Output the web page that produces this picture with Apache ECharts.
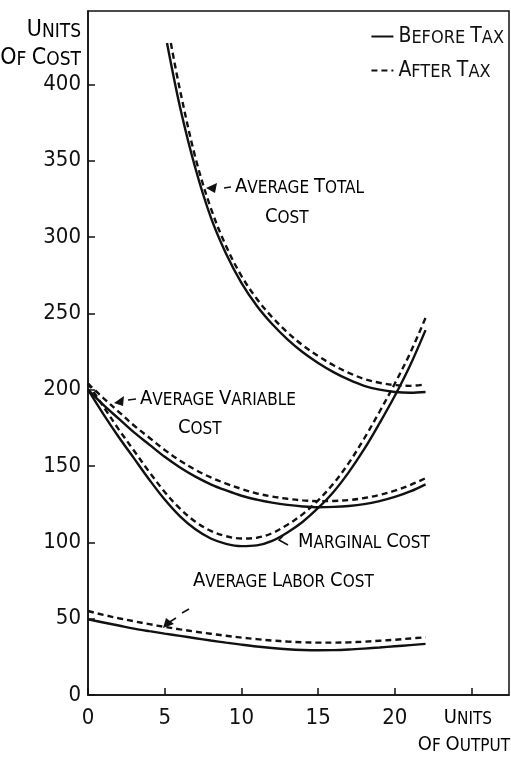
<!DOCTYPE html>
<html>
<head>
<meta charset="utf-8">
<script src="https://cdn.jsdelivr.net/npm/echarts@6/dist/echarts.min.js"></script>
<style>
  html, body { margin: 0; padding: 0; background: #fff; }
  #chart { width: 511px; height: 757px; }
</style>
</head>
<body>
<div id="chart"></div>
<script>
// units of output (x) shared by the curves that start at 0
const outputX = [0, 1, 2, 3, 4, 5, 6, 7, 8, 9, 10, 11, 12, 13, 14, 15, 16, 17, 18, 19, 20, 21, 22];

const avcBefore = [200, 190, 181, 172, 164, 156, 149, 143, 138, 134, 130.5, 128, 126, 124.5, 123.5, 123, 123.2, 123.8, 125, 127, 129.7, 133.3, 138];
const avcAfter = [204, 194.5, 185.5, 176.5, 168.5, 160.5, 153.5, 147.5, 142.5, 138.5, 135, 132, 130, 128.5, 127.5, 127, 127.1, 127.7, 129, 131, 133.8, 137.5, 142];

const mcBefore = [200, 184, 169, 155, 141, 128, 117, 108.5, 102.5, 99, 97.5, 98, 101, 106.5, 113.5, 122.5, 133, 146, 161, 178, 196, 216, 239];
const mcAfter = [204, 189, 174, 160, 146, 133, 122, 113.5, 107.5, 104, 102.5, 103, 106, 111.5, 118.5, 127.5, 138.5, 152, 168, 185.5, 204, 224, 247];

const alcBefore = [49.5, 47.5, 45.5, 43.5, 41.8, 40.2, 38.7, 37.2, 35.7, 34.3, 33, 31.8, 30.8, 30, 29.5, 29.3, 29.4, 29.8, 30.4, 31.1, 31.9, 32.7, 33.5];
const alcAfter = [55, 52.5, 50.3, 48.3, 46.4, 44.6, 43, 41.5, 40.1, 38.8, 37.6, 36.6, 35.7, 35, 34.5, 34.3, 34.3, 34.5, 34.9, 35.5, 36.2, 37, 37.8];

// average total cost only runs from about 5 units on
const atcBeforeX = [5.15, 6, 7, 8, 9, 10, 11, 12, 13, 14, 15, 16, 17, 18, 19, 20, 21, 22];
const atcBefore = [427, 385, 345, 313, 289, 270, 255, 243, 233, 224.5, 217.5, 211.5, 206.5, 202.5, 200, 198.5, 198, 198.5];
const atcAfterX = [5.4, 6, 7, 8, 9, 10, 11, 12, 13, 14, 15, 16, 17, 18, 19, 20, 21, 22];
const atcAfter = [427, 396, 352, 319, 294, 274.5, 259.5, 247.5, 237.5, 229, 222, 216, 211, 207, 204.5, 203, 202.5, 203.5];

const xTicks = [0, 5, 10, 15, 20];
const yTicks = [0, 50, 100, 150, 200, 250, 300, 350, 400];

const FONT = "'Liberation Sans Narrow', 'DejaVu Sans Condensed', sans-serif";
const INK = '#111';

// small caps: first letter of each word big, the rest small
function smallCaps(text) {
  return text.split(' ').map(w => '{b|' + w[0].toUpperCase() + '}{s|' + w.slice(1).toUpperCase() + '}').join('{s| }');
}
function capsStyle(big, small) {
  return {
    b: { fontFamily: FONT, fontSize: big, lineHeight: big, verticalAlign: 'bottom', color: INK },
    s: { fontFamily: FONT, fontSize: small, lineHeight: small, verticalAlign: 'bottom', color: INK }
  };
}

function pairs(xs, ys) {
  return xs.map((x, i) => [x, ys[i]]);
}

function curve(name, data, dashed) {
  return {
    type: 'line',
    name: name,
    data: data,
    smooth: 0.35,
    symbol: 'none',
    silent: true,
    lineStyle: { color: INK, width: 2.4, type: dashed ? [6, 4] : 'solid' },
    itemStyle: { color: INK }
  };
}

const chart = echarts.init(document.getElementById('chart'));

function label(x, y, text, big, small, align) {
  return {
    type: 'text', x: x, y: y,
    style: { text: smallCaps(text), rich: capsStyle(big, small), align: align || 'left', verticalAlign: 'middle' }
  };
}
function arrowHead(points) {
  return { type: 'polygon', shape: { points: points }, style: { fill: INK } };
}
function stroke(points) {
  return { type: 'polyline', shape: { points: points }, style: { stroke: INK, lineWidth: 1.5, fill: null } };
}

const option = {
  animation: false,
  backgroundColor: '#fff',
  grid: {
    left: 88, right: 2, top: 11, bottom: 62,
    show: true, borderColor: INK, borderWidth: 1.5
  },
  legend: {
    orient: 'vertical',
    right: 2,
    top: 21,
    itemWidth: 22,
    itemHeight: 14,
    itemGap: 13,
    data: ['Before Tax', 'After Tax'],
    itemStyle: { opacity: 0 },
    formatter: name => smallCaps(name),
    textStyle: { rich: capsStyle(21, 18) }
  },
  xAxis: {
    type: 'value',
    min: 0,
    max: 27.44,
    interval: 5,
    axisLine: { lineStyle: { color: INK, width: 1.5 } },
    axisTick: { inside: true, length: 7, lineStyle: { color: INK, width: 1.5 } },
    splitLine: { show: false },
    axisLabel: {
      showMaxLabel: false,
      margin: 12,
      fontFamily: FONT, fontSize: 22, color: INK,
      formatter: v => (xTicks.indexOf(v) >= 0 ? String(v) : '')
    }
  },
  yAxis: {
    type: 'value',
    min: 0,
    max: 448,
    interval: 50,
    axisLine: { lineStyle: { color: INK, width: 1.5 } },
    axisTick: { inside: true, length: 7, lineStyle: { color: INK, width: 1.5 } },
    splitLine: { show: false },
    axisLabel: {
      showMaxLabel: false,
      margin: 7,
      fontFamily: FONT, fontSize: 22, color: INK,
      formatter: v => (yTicks.indexOf(v) >= 0 ? String(v) : '')
    }
  },
  series: [
    curve('Before Tax', pairs(atcBeforeX, atcBefore), false),
    curve('After Tax', pairs(atcAfterX, atcAfter), true),
    curve('Before Tax', pairs(outputX, avcBefore), false),
    curve('After Tax', pairs(outputX, avcAfter), true),
    curve('Before Tax', pairs(outputX, mcBefore), false),
    curve('After Tax', pairs(outputX, mcAfter), true),
    curve('Before Tax', pairs(outputX, alcBefore), false),
    curve('After Tax', pairs(outputX, alcAfter), true)
  ],
  graphic: [
    // axis titles
    label(81, 30, 'Units', 23, 19, 'right'),
    label(81, 58, 'Of Cost', 23, 19, 'right'),
    label(492, 718, 'Units', 20, 17, 'right'),
    label(510, 745, 'Of Output', 20, 17, 'right'),
    // curve notes
    arrowHead([[206, 188], [217, 183], [215, 193]]),
    stroke([[224, 188], [231, 187]]),
    label(235, 187, 'Average Total', 20, 17),
    label(265, 217, 'Cost', 20, 17),
    arrowHead([[114, 403], [124, 396], [123, 406]]),
    stroke([[128, 400], [136, 399]]),
    label(140, 399, 'Average Variable', 20, 17),
    label(178, 428, 'Cost', 20, 17),
    stroke([[288, 545], [279, 540], [283, 536]]),
    label(298, 542, 'Marginal Cost', 20, 17),
    arrowHead([[163, 628], [166, 618], [174, 624]]),
    stroke([[168, 623], [176, 618]]),
    stroke([[182, 613], [189, 609]]),
    label(193, 581, 'Average Labor Cost', 20, 17)
  ]
};

chart.setOption(option);
</script>
</body>
</html>
